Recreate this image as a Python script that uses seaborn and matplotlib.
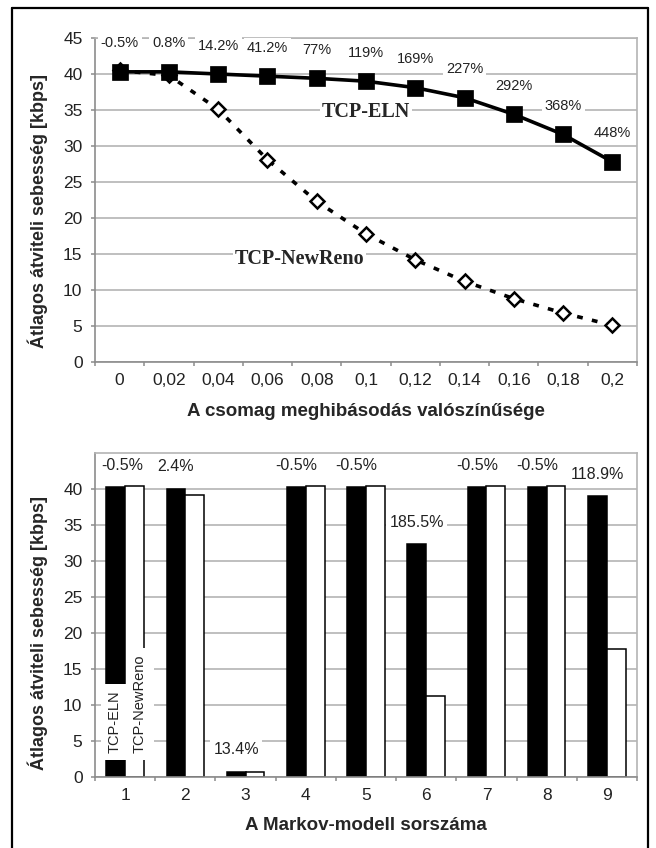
import numpy as np
import pandas as pd
import matplotlib
matplotlib.use("Agg")
import matplotlib.pyplot as plt
import seaborn as sns
from matplotlib.lines import Line2D

# packet loss probability (top chart categories)
loss_prob = ["0", "0,02", "0,04", "0,06", "0,08", "0,1", "0,12", "0,14", "0,16", "0,18", "0,2"]
eln_tput = [40.3, 40.3, 40.0, 39.7, 39.4, 39.0, 38.1, 36.7, 34.4, 31.6, 27.8]
newreno_tput = [40.5, 39.8, 35.1, 28.1, 22.3, 17.8, 14.2, 11.2, 8.8, 6.8, 5.1]
gain_top = ["-0.5%", "0.8%", "14.2%", "41.2%", "77%", "119%", "169%", "227%", "292%", "368%", "448%"]

# Markov model index (bottom chart categories)
markov_model = ["1", "2", "3", "4", "5", "6", "7", "8", "9"]
eln_markov = [40.2, 40.0, 0.75, 40.2, 40.2, 32.3, 40.2, 40.2, 39.0]
newreno_markov = [40.4, 39.1, 0.66, 40.4, 40.4, 11.3, 40.4, 40.4, 17.8]
gain_bottom = ["-0.5%", "2.4%", "13.4%", "-0.5%", "-0.5%", "185.5%", "-0.5%", "-0.5%", "118.9%"]

sns.set_style("ticks")
plt.rcParams["font.family"] = ["Liberation Sans", "DejaVu Sans"]

GRID = "#b4b4b4"
AXC = "#8c8c8c"
YLAB = "Átlagos átviteli sebesség [kbps]"

fig = plt.figure(figsize=(6.56, 8.48), dpi=100)
ax1 = fig.add_axes([95 / 656, 1 - 362 / 848, 542 / 656, 324 / 848])
ax2 = fig.add_axes([95 / 656, 1 - 777 / 848, 542 / 656, 324.5 / 848])

# frame around the whole picture (bottom edge runs off the image)
for xs, ys in [([12, 12], [848, 7.5]), ([12, 648], [7.5, 7.5]), ([648, 648], [7.5, 848])]:
    fig.add_artist(Line2D([x / 656 for x in xs], [1 - y / 848 for y in ys],
                          color="black", lw=1.6, transform=fig.transFigure))

# ---- top chart ----
sns.pointplot(x=loss_prob, y=newreno_tput, order=loss_prob, ax=ax1, color="black",
              errorbar=None, marker="D", markersize=7.5, markerfacecolor="white",
              markeredgecolor="black", markeredgewidth=1.8,
              linestyle=(0, (1.6, 2.6)), linewidth=2.6)
sns.pointplot(x=loss_prob, y=eln_tput, order=loss_prob, ax=ax1, color="black",
              errorbar=None, marker="s", markersize=9.5, linestyle="-", linewidth=2.6)

eln_line = ax1.lines[-1]
for (px, py), lab in zip(eln_line.get_xydata(), gain_top):
    ax1.annotate(lab, xy=(px, py), xytext=(0, 20.5), textcoords="offset points",
                 ha="center", va="center", fontsize=10.5, color="#222222", zorder=5,
                 bbox=dict(boxstyle="square,pad=0.2", fc="white", ec="none"))

ax1.text(5.0, 34.7, "TCP-ELN", ha="center", va="center", fontsize=14.5, fontweight="bold",
         family="Liberation Serif", zorder=5,
         bbox=dict(boxstyle="square,pad=0.1", fc="white", ec="none"))
ax1.text(3.65, 14.3, "TCP-NewReno", ha="center", va="center", fontsize=14.5, fontweight="bold",
         family="Liberation Serif", zorder=5,
         bbox=dict(boxstyle="square,pad=0.1", fc="white", ec="none"))

ax1.set_ylim(0, 45)
ax1.set_yticks(np.arange(0, 46, 5))
ax1.set_xlim(-0.5, len(loss_prob) - 0.5)
ax1.set_xlabel("A csomag meghibásodás valószínűsége", fontsize=13.5, fontweight="bold")
ax1.xaxis.set_label_coords(0.5, -0.154)
ax1.xaxis.label.set_va("center")
ax1.set_ylabel(YLAB, fontsize=13, fontweight="bold")
ax1.yaxis.set_label_coords(-0.105, 0.465)
ax1.yaxis.label.set_va("center")

# ---- bottom chart ----
df = pd.DataFrame({
    "model": markov_model * 2,
    "tput": eln_markov + newreno_markov,
    "series": ["TCP-ELN"] * len(markov_model) + ["TCP-NewReno"] * len(markov_model),
})
sns.barplot(data=df, x="model", y="tput", hue="series", order=markov_model,
            palette={"TCP-ELN": "black", "TCP-NewReno": "white"}, edgecolor="black",
            linewidth=1.1, width=0.625, gap=0, errorbar=None, legend=False, ax=ax2)

for i, (bar, lab) in enumerate(zip(ax2.containers[0], gain_bottom)):
    dx = 4.5 if i == 0 else 0
    ax2.annotate(lab, xy=(bar.get_x() + bar.get_width() / 2, bar.get_height()),
                 xytext=(dx, 15.6), textcoords="offset points", ha="center", va="center",
                 fontsize=11.5, color="#222222", zorder=5,
                 bbox=dict(boxstyle="square,pad=0.2", fc="white", ec="none"))

b_eln = ax2.containers[0][0]
b_nr = ax2.containers[1][0]
for bar, name, dx in [(b_eln, "TCP-ELN", -1), (b_nr, "TCP-NewReno", 4)]:
    ax2.annotate(name, xy=(bar.get_x() + bar.get_width() / 2, 2.3), xytext=(dx, 5),
                 textcoords="offset points", rotation=90, ha="center", va="bottom",
                 fontsize=10.5, color="#222222", zorder=5,
                 bbox=dict(boxstyle="square,pad=0.45", fc="white", ec="none"))

ax2.set_ylim(0, 45)
ax2.set_yticks(np.arange(0, 41, 5))
ax2.set_xlim(-0.5, len(markov_model) - 0.5)
ax2.set_xlabel("A Markov-modell sorszáma", fontsize=13.5, fontweight="bold")
ax2.xaxis.set_label_coords(0.5, -0.148)
ax2.xaxis.label.set_va("center")
ax2.set_ylabel(YLAB, fontsize=13, fontweight="bold")
ax2.yaxis.set_label_coords(-0.105, 0.445)
ax2.yaxis.label.set_va("center")

for ax, n in [(ax1, len(loss_prob)), (ax2, len(markov_model))]:
    ax.set_axisbelow(True)
    ax.yaxis.grid(True, color=GRID, lw=1.2)
    ax.xaxis.grid(False)
    ax.set_xticks(np.arange(-0.5, n, 1), minor=True)
    ax.tick_params(axis="x", which="major", length=0, pad=8, labelsize=12.5, labelcolor="#222222")
    ax.tick_params(axis="x", which="minor", length=3, width=1.1, color=AXC, direction="out")
    ax.tick_params(axis="y", length=3, width=1.1, color=AXC, pad=6, labelsize=12.5,
                   labelcolor="#222222")
    for s in ax.spines.values():
        s.set_visible(True)
        s.set_color(AXC)
        s.set_linewidth(1.2)
    ax.spines["top"].set_color(GRID)
    ax.spines["right"].set_color(GRID)

fig.savefig("out.png", dpi=100)
